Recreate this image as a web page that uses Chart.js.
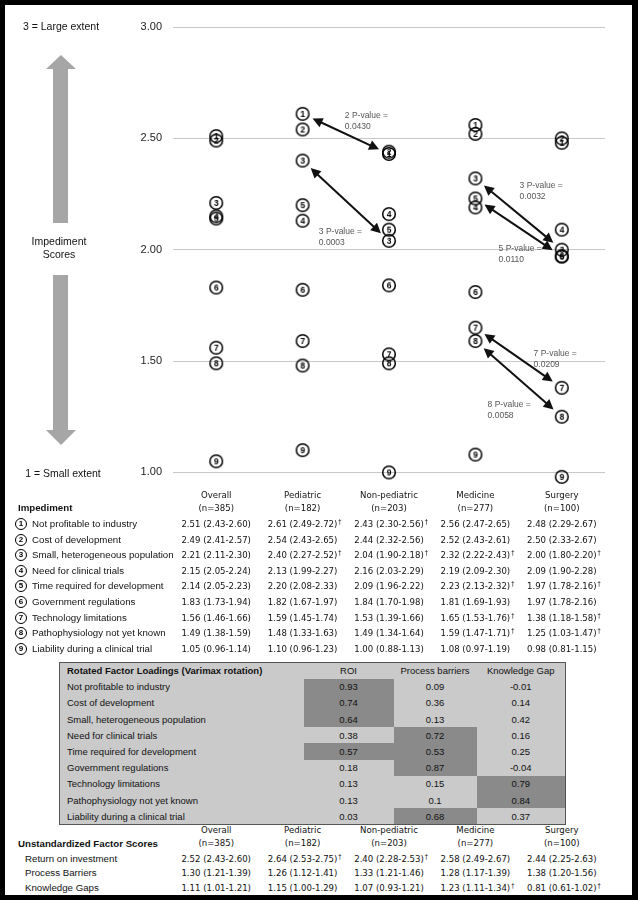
<!DOCTYPE html>
<html lang="en">
<head>
<meta charset="UTF-8">
<title>Impediment Scores</title>
<script src="https://cdn.jsdelivr.net/npm/chart.js@4"></script>
<style>
  body { margin: 0; background: #fff; }
  #page { position: relative; width: 638px; height: 900px; overflow: hidden; color: #111;
          font-family: 'Liberation Sans', Arial, sans-serif; }
  #frame { position: absolute; left: 0; top: 0; width: 638px; height: 900px; box-sizing: border-box;
           border: 5px solid #000; border-right-width: 6px; pointer-events: none; z-index: 5; }
  #chartBox { position: absolute; left: 0; top: 0; width: 638px; height: 490px; }
  .side { position: absolute; white-space: nowrap; font-size: 10.5px; transform: translate(-50%, -50%); }
  .lbl { position: absolute; white-space: nowrap; font-size: 9.7px; height: 16px; line-height: 16px; }
  .val { position: absolute; width: 100px; text-align: center; white-space: nowrap; height: 16px; line-height: 16px;
         font-family: 'Liberation Sans Narrow', 'DejaVu Sans Condensed', sans-serif; font-size: 9.5px; }
  .val span { position: relative; }
  .val i { position: absolute; left: 100%; top: -4px; margin-left: 1px; font-style: normal; font-size: 7px; }
  .num { position: absolute; width: 12px; height: 12px; box-sizing: border-box; border: 1.3px solid #000; border-radius: 50%;
         font-size: 8px; font-weight: bold; line-height: 9.5px; text-align: center; color: #000; }
  b.lbl { font-weight: bold; }
  #loadings { position: absolute; left: 59px; top: 662px; width: 506px; border-collapse: collapse; table-layout: fixed;
              background: #cacaca; border: 1.5px solid #555; font-size: 9.5px; color: #111; }
  #loadings tr { height: 16.2px; }
  #loadings th { text-align: left; font-weight: normal; padding: 0 0 0 7px; white-space: nowrap; }
  #loadings tr:first-child th { font-weight: bold; }
  #loadings td { text-align: center; padding: 0; }
  #loadings td.hi { background: #8a8a8a; }
</style>
</head>
<body>
<div id="page">
  <div id="chartBox"><canvas id="chart"></canvas></div>
  <svg width="140" height="490" style="position:absolute;left:0;top:0">
    <polygon points="61,55 76,69 68,69 68,223 53,223 53,69 46,69" fill="#a6a6a6"/>
    <polygon points="53,275 68,275 68,430 76,430 61,445 46,430 53,430" fill="#a6a6a6"/>
  </svg>
  <div class="side" style="left:61px;top:26px">3 = Large extent</div>
  <div class="side" style="left:59px;top:241px">Impediment</div>
  <div class="side" style="left:59px;top:254px">Scores</div>
  <div class="side" style="left:63px;top:473px">1 = Small extent</div>
  <div id="tables"></div>
  <div id="frame"></div>
</div>

<script>
  // groups compared
  const groups = ['Overall', 'Pediatric', 'Non-pediatric', 'Medicine', 'Surgery'];
  const groupN = ['(n=385)', '(n=182)', '(n=203)', '(n=277)', '(n=100)'];

  const impediments = [
    'Not profitable to industry',
    'Cost of development',
    'Small, heterogeneous population',
    'Need for clinical trials',
    'Time required for development',
    'Government regulations',
    'Technology limitations',
    'Pathophysiology not yet known',
    'Liability during a clinical trial'
  ];

  // mean impediment score, one row per impediment, one column per group
  const means = [
    [2.51, 2.61, 2.43, 2.56, 2.48],
    [2.49, 2.54, 2.44, 2.52, 2.50],
    [2.21, 2.40, 2.04, 2.32, 2.00],
    [2.15, 2.13, 2.16, 2.19, 2.09],
    [2.14, 2.20, 2.09, 2.23, 1.97],
    [1.83, 1.82, 1.84, 1.81, 1.97],
    [1.56, 1.59, 1.53, 1.65, 1.38],
    [1.49, 1.48, 1.49, 1.59, 1.25],
    [1.05, 1.10, 1.00, 1.08, 0.98]
  ];
  const ciLow = [
    [2.43, 2.49, 2.30, 2.47, 2.29],
    [2.41, 2.43, 2.32, 2.43, 2.33],
    [2.11, 2.27, 1.90, 2.22, 1.80],
    [2.05, 1.99, 2.03, 2.09, 1.90],
    [2.05, 2.08, 1.96, 2.13, 1.78],
    [1.73, 1.67, 1.70, 1.69, 1.78],
    [1.46, 1.45, 1.39, 1.53, 1.18],
    [1.38, 1.33, 1.34, 1.47, 1.03],
    [0.96, 0.96, 0.88, 0.97, 0.81]
  ];
  const ciHigh = [
    [2.60, 2.72, 2.56, 2.65, 2.67],
    [2.57, 2.65, 2.56, 2.61, 2.67],
    [2.30, 2.52, 2.18, 2.43, 2.20],
    [2.24, 2.27, 2.29, 2.30, 2.28],
    [2.23, 2.33, 2.22, 2.32, 2.16],
    [1.94, 1.97, 1.98, 1.93, 2.16],
    [1.66, 1.74, 1.66, 1.76, 1.58],
    [1.59, 1.63, 1.64, 1.71, 1.47],
    [1.14, 1.23, 1.13, 1.19, 1.15]
  ];
  // dagger marks (significant difference)
  const flagged = [
    [0, 1, 1, 0, 0],
    [0, 0, 0, 0, 0],
    [0, 1, 1, 1, 1],
    [0, 0, 0, 0, 0],
    [0, 0, 0, 1, 1],
    [0, 0, 0, 0, 0],
    [0, 0, 0, 1, 1],
    [0, 0, 0, 1, 1],
    [0, 0, 0, 0, 0]
  ];

  // rotated factor loadings
  const loadRoi = [0.93, 0.74, 0.64, 0.38, 0.57, 0.18, 0.13, 0.13, 0.03];
  const loadProcess = [0.09, 0.36, 0.13, 0.72, 0.53, 0.87, 0.15, 0.1, 0.68];
  const loadKnowledge = [-0.01, 0.14, 0.42, 0.16, 0.25, -0.04, 0.79, 0.84, 0.37];

  // unstandardized factor scores
  const factorNames = ['Return on investment', 'Process Barriers', 'Knowledge Gaps'];
  const factorMeans = [[2.52, 2.64, 2.40, 2.58, 2.44], [1.30, 1.26, 1.33, 1.28, 1.38], [1.11, 1.15, 1.07, 1.23, 0.81]];
  const factorLow = [[2.43, 2.53, 2.28, 2.49, 2.25], [1.21, 1.12, 1.21, 1.17, 1.20], [1.01, 1.00, 0.93, 1.11, 0.61]];
  const factorHigh = [[2.60, 2.75, 2.53, 2.67, 2.63], [1.39, 1.41, 1.46, 1.39, 1.56], [1.21, 1.29, 1.21, 1.34, 1.02]];
  const factorFlagged = [[0, 1, 1, 0, 0], [0, 0, 0, 0, 0], [0, 0, 0, 1, 1]];

  // pairwise tests drawn as arrows (item, from group, to group)
  const tests = [
    { item: 1, from: 1, to: 2, tag: 2, p: '0.0430' },
    { item: 3, from: 1, to: 2, tag: 3, p: '0.0003' },
    { item: 3, from: 3, to: 4, tag: 3, p: '0.0032' },
    { item: 5, from: 3, to: 4, tag: 5, p: '0.0110' },
    { item: 7, from: 3, to: 4, tag: 7, p: '0.0209' },
    { item: 8, from: 3, to: 4, tag: 8, p: '0.0058' }
  ];
  // where each p-value label sits, relative to the arrow middle
  const labelOffsets = [[-1, -18], [-27, 31], [1, -28], [-20, 21], [15, -4], [-31, 26]];

  // circled number used as point marker
  function badge(n) {
    const c = document.createElement('canvas');
    c.width = 16; c.height = 16;
    const g = c.getContext('2d');
    g.beginPath();
    g.arc(8, 8, 6.3, 0, Math.PI * 2);
    g.lineWidth = 1.5;
    g.strokeStyle = '#000';
    g.stroke();
    g.fillStyle = '#000';
    g.font = 'bold 8.5px "Liberation Sans", sans-serif';
    g.textAlign = 'center';
    g.textBaseline = 'middle';
    g.fillText(String(n), 8, 8.6);
    return c;
  }

  const arrowPlugin = {
    id: 'arrows',
    afterDatasetsDraw(chart) {
      const ctx = chart.ctx, xs = chart.scales.x, ys = chart.scales.y;
      tests.forEach((t, k) => {
        let x1 = xs.getPixelForValue(t.from), y1 = ys.getPixelForValue(means[t.item - 1][t.from]);
        let x2 = xs.getPixelForValue(t.to), y2 = ys.getPixelForValue(means[t.item - 1][t.to]);
        const a = Math.atan2(y2 - y1, x2 - x1), gap = 11;
        const sx = x1 + Math.cos(a) * gap, sy = y1 + Math.sin(a) * gap;
        const ex = x2 - Math.cos(a) * gap, ey = y2 - Math.sin(a) * gap;
        ctx.save();
        ctx.strokeStyle = '#111';
        ctx.fillStyle = '#111';
        ctx.lineWidth = 2;
        ctx.beginPath();
        ctx.moveTo(sx + Math.cos(a) * 6, sy + Math.sin(a) * 6);
        ctx.lineTo(ex - Math.cos(a) * 6, ey - Math.sin(a) * 6);
        ctx.stroke();
        [[ex, ey, a], [sx, sy, a + Math.PI]].forEach(([hx, hy, ang]) => {
          ctx.beginPath();
          ctx.moveTo(hx, hy);
          ctx.lineTo(hx - Math.cos(ang) * 10 + Math.sin(ang) * 5, hy - Math.sin(ang) * 10 - Math.cos(ang) * 5);
          ctx.lineTo(hx - Math.cos(ang) * 10 - Math.sin(ang) * 5, hy - Math.sin(ang) * 10 + Math.cos(ang) * 5);
          ctx.closePath();
          ctx.fill();
        });
        const mx = (x1 + x2) / 2 + labelOffsets[k][0], my = (y1 + y2) / 2 + labelOffsets[k][1];
        ctx.fillStyle = '#555';
        ctx.font = '8.5px "Liberation Sans Narrow", "Liberation Sans", sans-serif';
        ctx.textAlign = 'left';
        ctx.textBaseline = 'middle';
        ctx.fillText(t.tag + ' P-value =', mx, my);
        ctx.fillText(t.p, mx, my + 11);
        ctx.restore();
      });
    }
  };

  const chart = new Chart(document.getElementById('chart'), {
    type: 'line',
    data: {
      labels: groups,
      datasets: impediments.map((name, i) => ({
        label: name,
        data: means[i],
        showLine: false,
        pointStyle: badge(i + 1),
        pointRadius: 7,
        clip: false
      }))
    },
    options: {
      responsive: true,
      maintainAspectRatio: false,
      animation: false,
      layout: { padding: { top: 27, right: 33, bottom: 15, left: 0 } },
      plugins: { legend: { display: false }, tooltip: { enabled: false } },
      scales: {
        x: { display: false, offset: true },
        y: {
          min: 1, max: 3,
          ticks: { stepSize: 0.5, padding: 11, color: '#222', font: { family: 'Liberation Sans', size: 11 },
                   callback: v => v.toFixed(2) },
          grid: { color: '#c8c8c8', drawTicks: false },
          border: { display: false },
          afterFit: s => { s.width = 173; }
        }
      }
    },
    plugins: [arrowPlugin]
  });

  // tables under the chart, columns lined up with the chart categories
  const cx = groups.map((g, i) => chart.scales.x.getPixelForValue(i));
  const fmt = (m, l, h) => m.toFixed(2) + ' (' + l.toFixed(2) + '-' + h.toFixed(2) + ')';
  let html = '';

  function header(y) {
    groups.forEach((g, i) => {
      html += `<div class="val" style="left:${cx[i] - 50}px;top:${y - 8}px">${g}</div>`;
      html += `<div class="val" style="left:${cx[i] - 50}px;top:${y + 5}px">${groupN[i]}</div>`;
    });
  }
  function valueRow(y, m, l, h, f) {
    m.forEach((v, j) => {
      html += `<div class="val" style="left:${cx[j] - 50}px;top:${y - 8}px"><span>${fmt(v, l[j], h[j])}${f[j] ? '<i>†</i>' : ''}</span></div>`;
    });
  }

  header(495);
  html += `<b class="lbl" style="left:18px;top:500px">Impediment</b>`;
  impediments.forEach((name, i) => {
    const y = 524 + i * 15.6;
    html += `<div class="num" style="left:15px;top:${y - 6}px">${i + 1}</div>`;
    html += `<div class="lbl" style="left:32px;top:${y - 8}px">${name}</div>`;
    valueRow(y, means[i], ciLow[i], ciHigh[i], flagged[i]);
  });

  html += '<table id="loadings"><colgroup><col style="width:244px"><col style="width:90px"><col style="width:83px"><col style="width:89px"></colgroup>';
  html += '<tr><th>Rotated Factor Loadings (Varimax rotation)</th><td>ROI</td><td>Process barriers</td><td>Knowledge Gap</td></tr>';
  impediments.forEach((name, i) => {
    html += `<tr><th>${name}</th>` +
      [loadRoi[i], loadProcess[i], loadKnowledge[i]].map(v => `<td class="${v >= 0.5 ? 'hi' : ''}">${v}</td>`).join('') +
      '</tr>';
  });
  html += '</table>';

  header(830);
  html += `<b class="lbl" style="left:18px;top:836px">Unstandardized Factor Scores</b>`;
  factorNames.forEach((name, i) => {
    const y = 859 + i * 14.3;
    html += `<div class="lbl" style="left:25px;top:${y - 8}px">${name}</div>`;
    valueRow(y, factorMeans[i], factorLow[i], factorHigh[i], factorFlagged[i]);
  });

  document.getElementById('tables').innerHTML = html;
</script>
</body>
</html>
